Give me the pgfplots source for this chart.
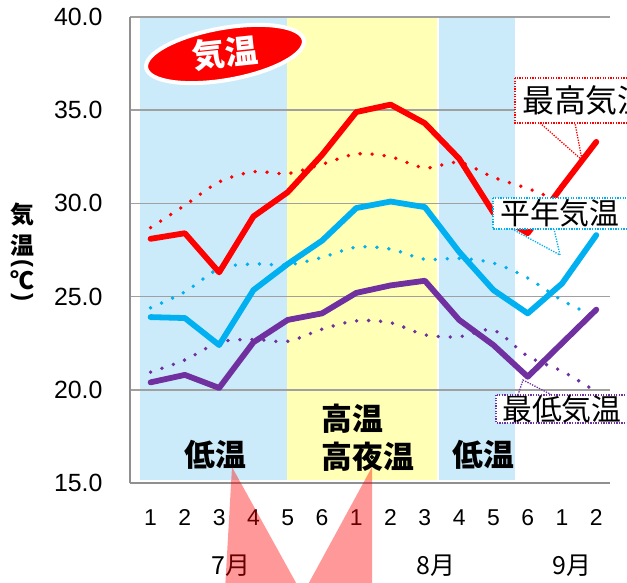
\documentclass[border=0pt]{standalone}
\usepackage{fontspec}
\setmainfont{Liberation Sans}
\newfontfamily\jp{Noto Sans CJK JP}
\usepackage{pgfplots}
\pgfplotsset{compat=1.18}
\usetikzlibrary{shapes.geometric}

\definecolor{cmax}{HTML}{FF0000}
\definecolor{cavg}{HTML}{00B0F0}
\definecolor{cmin}{HTML}{7030A0}
\definecolor{bandblue}{HTML}{CCEBFA}
\definecolor{bandyel}{HTML}{FFFFB5}
\definecolor{gridc}{HTML}{A0A0A0}

\tikzset{
  obs/.style={line width=5.8bp, line join=round, line cap=round},
  norm/.style={line width=3.8bp, line cap=round, dash pattern=on 0bp off 12bp, smooth, tension=0.5},
  callout/.style={line width=1.3bp, dash pattern=on 1.3bp off 1.3bp},
}

\begin{document}
\begin{tikzpicture}
\begin{axis}[
  at={(0,0)}, anchor=south west,
  width=480bp, height=466bp, scale only axis,
  xmin=-0.6, xmax=13.4, ymin=15, ymax=40,
  xtick={0,...,13},
  xticklabels={1,2,3,4,5,6,1,2,3,4,5,6,1,2},
  ytick={15,20,...,40},
  axis lines*=left,
  axis line style={gridc!90!black, line width=1.8bp},
  ymajorgrids, grid style={gridc, line width=1.5bp},
  major tick length=0pt,
  tick style={draw=none},
  /pgf/number format/assume math mode=true,
  /pgf/number format/fixed,
  /pgf/number format/fixed zerofill,
  /pgf/number format/precision=1,
  y tick label style={font=\fontsize{25}{25}\selectfont, anchor=east, xshift=-24bp},
  x tick label style={font=\fontsize{23}{23}\selectfont, anchor=base, yshift=-42bp},
  clip=false,
  set layers,
]
\begin{pgfonlayer}{axis background}
  \fill[bandblue] (axis cs:-0.3,15.16) rectangle (axis cs:3.98,40);
  \fill[bandyel]  (axis cs:3.98,15.16) rectangle (axis cs:8.36,40);
  \fill[bandblue] (axis cs:8.42,15.16) rectangle (axis cs:10.64,40);
\end{pgfonlayer}

% normals (dotted)
\addplot[cmin, norm] coordinates {
  (0,20.95) (1,21.6) (2,22.55) (3,22.7) (4,22.6) (5,23.25) (6,23.7)
  (7,23.6) (8,22.95) (9,22.85) (10,23.2) (11,21.8) (12,21.0) (13,19.9)
};
\addplot[cavg, norm] coordinates {
  (0,24.4) (1,25.25) (2,26.5) (3,26.75) (4,26.7) (5,27.1) (6,27.65)
  (7,27.55) (8,27.0) (9,27.05) (10,26.8) (11,26.0) (12,24.8) (13,23.9)
};
\addplot[cmax, norm] coordinates {
  (0,28.7) (1,29.9) (2,31.15) (3,31.7) (4,31.6) (5,32.1) (6,32.65)
  (7,32.5) (8,31.9) (9,32.2) (10,31.4) (11,30.8) (12,30.1) (13,29.6)
};

% observed (solid)
\addplot[cmin, obs] coordinates {
  (0,20.4) (1,20.8) (2,20.1) (3,22.55) (4,23.75) (5,24.1) (6,25.2)
  (7,25.6) (8,25.85) (9,23.75) (10,22.4) (11,20.7) (12,22.5) (13,24.3)
};
\addplot[cavg, obs] coordinates {
  (0,23.9) (1,23.85) (2,22.4) (3,25.35) (4,26.75) (5,28.0) (6,29.75)
  (7,30.1) (8,29.8) (9,27.4) (10,25.35) (11,24.1) (12,25.7) (13,28.3)
};
\addplot[cmax, obs] coordinates {
  (0,28.1) (1,28.4) (2,26.3) (3,29.3) (4,30.6) (5,32.6) (6,34.9)
  (7,35.3) (8,34.3) (9,32.4) (10,29.5) (11,28.4) (12,30.9) (13,33.3)
};
\end{axis}

% annotations in image pixel coordinates (origin top-left)
\begin{scope}[x=1bp, y=-1bp, shift={(-130bp,483bp)}]
  % title ellipse
  \node[ellipse, fill=cmax, draw=white, line width=4bp, minimum width=160bp,
        minimum height=52bp, rotate=10] at (225,54) {};
  \node[text=white, rotate=6, font=\jp\bfseries\fontsize{33}{33}\selectfont] at (225,53) {気温};

  % band labels
  \node[font=\jp\bfseries\fontsize{31}{31}\selectfont] at (215,455) {低温};
  \node[font=\jp\bfseries\fontsize{31}{31}\selectfont, anchor=west] at (318,419) {高温};
  \node[font=\jp\bfseries\fontsize{31}{31}\selectfont, anchor=west] at (318,457) {高夜温};
  \node[font=\jp\bfseries\fontsize{31}{31}\selectfont] at (483,455) {低温};

  % y axis label (vertical)
  \begin{scope}[inner sep=0pt, font=\jp\bfseries\fontsize{24}{24}\selectfont]
    \node at (22,215) {気};
    \node at (22,245) {温};
    \node[rotate=-90, font=\bfseries\fontsize{24}{24}\selectfont] at (22,263) {(};
    \node at (22,280) {℃};
    \node[rotate=-90, font=\bfseries\fontsize{24}{24}\selectfont] at (22,297) {)};
  \end{scope}

  % month labels
  \node[font=\jp\fontsize{25}{25}\selectfont] at (231,566) {7月};
  \node[font=\jp\fontsize{25}{25}\selectfont] at (436,566) {8月};
  \node[font=\jp\fontsize{25}{25}\selectfont] at (572,566) {9月};

  % callouts
  \draw[cmax, callout, fill=white] (515,78) rectangle (660,123);
  \draw[cmax, callout] (540,123) -- (582,160) -- (575,123);
  \node[anchor=west, inner sep=0pt, font=\jp\fontsize{32}{32}\selectfont] at (522,100.5) {最高気温};

  \draw[cavg, callout, fill=white] (493,198) rectangle (660,229);
  \draw[cavg, callout] (512,229) -- (560,255) -- (554,229);
  \node[anchor=west, inner sep=0pt, font=\jp\fontsize{30}{30}\selectfont] at (500,213.5) {平年気温};

  \draw[cmin, callout, fill=white] (496,395) rectangle (660,423);
  \draw[cmin, callout] (518,395) -- (523,380) -- (552,395);
  \node[anchor=west, inner sep=0pt, font=\jp\fontsize{30}{30}\selectfont] at (502,409) {最低気温};

  % pink pointer triangles
  \fill[cmax, opacity=0.4] (232,467) -- (300,590) -- (225,590) -- cycle;
  \fill[cmax, opacity=0.4] (372,467) -- (372,590) -- (305,590) -- cycle;

  \pgfresetboundingbox
  \path[use as bounding box] (0,0) rectangle (627,583);
\end{scope}
\end{tikzpicture}
\end{document}
